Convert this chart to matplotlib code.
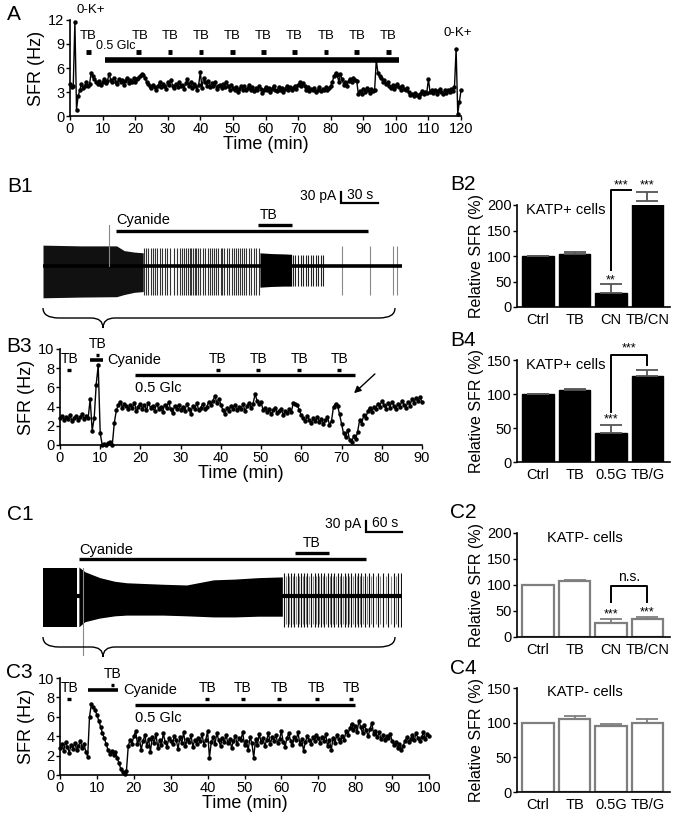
import numpy as np
import matplotlib
matplotlib.use('Agg')
import matplotlib.pyplot as plt
from matplotlib.path import Path
from matplotlib.patches import PathPatch

plt.rcParams['font.family'] = ['Liberation Sans', 'DejaVu Sans']

# ------------------------------------------------------------------ data
# Panel A: SFR (Hz) every 0.5 min, 0..120 min
a_sfr = [4.0, 3.6, 3.8, 11.8, 0.8, 2.5, 3.2, 4.0, 3.5, 3.8, 4.2, 3.7, 4.0, 5.4, 5.0, 4.6, 4.3, 4.0, 4.4, 3.9, 4.2,
         4.6, 4.1, 4.4, 5.3, 4.5, 4.2, 4.8, 4.3, 4.0, 4.6, 4.2, 4.5, 3.9, 4.4, 4.8, 4.1, 4.5, 4.2, 4.7, 4.3,
         4.6, 4.8, 5.0, 5.2, 5.1, 4.8, 4.3, 4.0, 3.7, 3.5, 3.9, 3.6, 3.3, 3.8, 4.2, 3.6, 4.0, 3.7, 3.4, 4.3,
         3.9, 4.5, 3.8, 3.5, 4.0, 3.6, 4.2, 3.7, 3.9, 3.4, 4.1, 4.6, 3.8, 4.3, 3.5, 4.0, 3.7, 3.3, 3.9, 5.5,
         3.5, 4.8, 4.2, 3.8, 4.4, 3.6, 4.1, 3.8, 4.3, 3.4, 3.7, 3.9, 3.5, 4.0, 3.6, 4.2, 3.8, 3.3, 3.9, 3.5,
         3.2, 3.6, 3.0, 3.4, 3.7, 3.3, 3.8, 3.2, 3.5, 3.9, 3.3, 3.6, 3.1, 3.5, 3.2, 3.7, 3.4, 2.9, 3.3, 3.6,
         3.2, 3.5, 3.0, 3.4, 3.8, 3.3, 3.1, 3.6, 3.2, 3.5, 3.0, 3.4, 3.7, 3.3, 3.6, 3.2, 3.5, 3.8, 3.4, 3.9,
         4.2, 3.8, 4.1, 3.7, 3.3, 3.6, 3.1, 3.4, 3.2, 3.5, 3.0, 3.3, 3.6, 3.1, 3.4, 3.2, 3.6, 3.3, 3.5, 3.8,
         4.2, 5.0, 5.4, 5.1, 4.3, 5.2, 4.6, 3.9, 4.2, 3.8, 4.4, 4.6, 4.3, 4.7, 4.5, 4.4, 2.7, 3.1, 2.8, 3.4,
         3.0, 3.5, 3.2, 2.9, 3.4, 3.1, 3.3, 7.0, 5.4, 5.0, 4.7, 4.3, 4.5, 4.0, 4.2, 3.8, 3.5, 3.9, 3.4, 3.7,
         4.0, 3.6, 3.3, 3.8, 3.4, 3.2, 3.5, 3.0, 2.6, 2.8, 2.5, 2.9, 2.6, 2.4, 2.8, 3.1, 2.7, 3.0, 2.9, 4.6,
         3.0, 3.3, 2.9, 3.2, 2.8, 3.1, 3.4, 3.0, 2.8, 3.2, 2.9, 3.3, 3.0, 3.4, 3.1, 3.6, 8.4, 0.3, 1.8, 3.2]
a_tb_times = [5.7, 21.0, 30.7, 40.2, 49.9, 59.4, 68.9, 78.6, 88.0, 97.8]
a_glc = [10.8, 101.0]

# Panel B3: SFR (Hz) every 0.5 min, 0..90 min
b3_sfr = [2.8, 3.0, 2.6, 2.9, 2.7, 3.1, 2.5, 2.8, 3.0, 2.6, 2.9, 3.2, 2.7, 3.0, 2.8, 4.8, 1.5, 2.8, 6.3, 8.3, 1.2,
          0.0, 0.1, 0.0, 0.2, 0.3, 0.0, 2.3, 3.6, 4.2, 4.5, 3.9, 4.3, 4.1, 3.8, 4.2, 3.9, 4.4, 3.5, 4.0, 4.3,
          3.8, 4.2, 3.6, 4.4, 3.9, 4.1, 3.5, 4.3, 3.8, 4.0, 3.4, 4.2, 3.9, 4.5, 3.7, 3.3, 4.1, 3.8, 4.2, 3.6,
          4.0, 3.5, 4.3, 3.8, 3.2, 4.1, 3.7, 4.4, 3.6, 3.9, 4.3, 3.7, 4.0, 4.5, 4.2, 4.6, 5.1, 4.4, 4.8, 4.2,
          3.6, 3.2, 3.9, 3.5, 4.1, 3.8, 4.2, 3.6, 4.0, 3.7, 4.3, 3.5, 4.1, 4.4, 3.9, 4.3, 5.3, 4.6, 4.3, 4.5,
          3.6, 3.9, 3.4, 3.7, 3.2, 3.6, 3.9, 3.3, 3.5, 3.8, 3.1, 3.5, 3.3, 3.7, 3.4, 4.4, 4.3, 4.2, 3.6, 3.1,
          2.8, 2.5, 3.0, 2.6, 2.3, 2.8, 2.5, 2.9, 2.4, 2.7, 2.2, 2.6, 2.9, 2.1, 2.5, 4.0, 4.3, 4.1, 3.2, 2.2,
          1.2, 0.8, 1.6, 0.5, 0.3, 0.9, 0.6, 1.4, 2.6, 2.2, 3.1, 2.8, 3.5, 3.9, 3.4, 4.0, 3.8, 4.3, 4.0, 4.6,
          4.2, 3.8, 4.4, 3.9, 4.5, 4.1, 3.7, 4.3, 4.0, 4.6, 4.2, 3.9, 4.5, 4.1, 4.8, 4.4, 4.9, 4.6, 5.0, 4.5]
b3_tb_first = 2.3
b3_tb_second = 9.4
b3_tb_times = [39.3, 49.3, 59.5, 69.4]
b3_cyanide = [7.5, 10.8]
b3_glc = [18.7, 73.4]

# Panel C3: SFR (Hz) every 0.5 min, 0..100 min
c3_sfr = [2.8, 3.2, 2.5, 3.4, 2.9, 2.3, 3.1, 2.7, 3.3, 2.6, 3.0, 3.5, 2.8, 3.2, 2.4, 1.9, 6.0, 7.3, 7.0, 6.7, 6.2,
          5.6, 5.0, 4.3, 3.8, 3.2, 2.6, 2.2, 2.5, 2.1, 2.4, 1.8, 1.2, 0.6, 0.3, 0.1, 0.4, 3.0, 3.6, 3.2, 4.0,
          4.5, 3.2, 3.8, 2.6, 3.5, 4.1, 3.0, 3.7, 2.4, 3.9, 3.3, 4.2, 2.8, 3.6, 3.1, 4.3, 3.4, 2.9, 3.8, 3.5,
          3.2, 4.0, 3.6, 2.7, 3.9, 3.3, 4.4, 3.0, 3.7, 3.4, 4.1, 2.9, 3.6, 3.2, 3.8, 3.5, 4.2, 3.1, 3.6, 4.5,
          1.8, 3.4, 3.9, 3.2, 4.3, 3.6, 3.0, 3.8, 3.4, 4.1, 3.3, 3.7, 2.8, 3.5, 4.0, 3.2, 3.8, 3.6, 4.4, 3.1,
          3.5, 2.6, 3.9, 3.3, 1.8, 3.7, 3.1, 4.2, 3.4, 3.8, 3.0, 3.6, 4.3, 3.2, 3.9, 3.5, 4.1, 3.3, 3.7, 4.5,
          3.4, 2.9, 3.8, 4.3, 3.5, 3.1, 3.9, 3.6, 4.4, 3.2, 3.7, 2.5, 3.4, 4.0, 3.6, 3.2, 3.9, 3.5, 4.1, 3.8,
          3.3, 3.9, 3.5, 4.2, 3.0, 3.6, 2.6, 3.8, 3.3, 4.1, 3.7, 3.4, 4.0, 3.6, 4.5, 4.1, 4.8, 5.3, 4.6, 5.1,
          4.4, 5.6, 4.9, 4.3, 5.2, 4.6, 4.0, 4.7, 5.4, 4.2, 4.5, 3.9, 4.4, 3.7, 4.1, 3.6, 4.0, 3.8, 4.2, 3.5,
          3.1, 3.4, 2.8, 3.2, 2.6, 3.0, 3.5, 3.9, 3.4, 3.7, 4.1, 3.6, 4.3, 3.8, 3.5, 3.9, 4.4, 3.7, 4.2, 4.0]
c3_tb_first = 2.5
c3_tb_second = 14.3
c3_tb_times = [39.9, 49.6, 59.4, 69.6, 78.9]
c3_cyanide = [7.7, 15.8]
c3_glc = [20.3, 80.0]

# Bar panels (Relative SFR %)
cats_cn = ['Ctrl', 'TB', 'CN', 'TB/CN']
cats_g = ['Ctrl', 'TB', '0.5G', 'TB/G']
b2_mean = [100, 104, 28, 208]
b2_err = [0, 4, 18, 18]
b4_mean = [100, 106, 43, 126]
b4_err = [0, 2, 11, 10]
c2_mean = [100, 107, 27, 34]
c2_err = [0, 2, 7, 5]
c4_mean = [100, 106, 95, 100]
c4_err = [0, 4, 3, 5]

# B1 cell-attached recording (time s, current pA)
b1_dense_t = [0, 30, 58, 64, 72, 79]
b1_dense_up = [57, 55, 55, 42, 38, 36]
b1_dense_dn = [-87, -85, -84, -78, -72, -70]
b1_spk_t = [80, 81.5, 83, 85, 86.5, 88, 90, 92.5, 94, 96, 98, 100.5, 103, 106, 108, 109.5, 111, 112.5,
            114, 115.5, 117, 118.5, 120, 121, 122.5, 124, 126, 128, 130, 131.5, 133, 134.5, 136, 138,
            140, 141.5, 143, 145, 147, 149, 150.5, 152, 153.5, 155, 157, 158.5, 160, 162, 164, 166, 168, 170]
b1_burst_t = [171, 180, 190, 196]
b1_burst_up = [36, 34, 33, 32]
b1_burst_dn = [-58, -56, -55, -55]
b1_spk2_t = [197, 199, 201, 203, 205, 207, 209, 211, 213, 215, 217, 219, 221]
b1_spk3_t = [236, 258, 276, 279]
b1_cyanide = [57.5, 256]
b1_tb = [169.5, 196]

# C1 cell-attached recording (time s, current pA)
c1_dense1_t = [0, 57]
c1_dense1_up = [76, 76]
c1_dense1_dn = [-85, -85]
c1_dense2_t = [60, 70, 95, 120, 140, 170, 200, 240, 285, 320, 360, 400]
c1_dense2_up = [79, 66, 50, 40, 36, 34, 32, 30, 44, 46, 50, 52]
c1_dense2_dn = [-84, -70, -60, -54, -52, -52, -52, -54, -57, -57, -55, -55]
c1_spk_dark = [403, 409, 414, 420, 426, 431, 437, 442, 448, 454, 459, 465, 470, 476, 482, 487, 493,
               498, 504, 510, 515, 521, 527, 532, 538, 545, 552, 560, 568, 577, 586, 593, 598]
c1_spk_gray = [406, 411, 417, 423, 428, 434, 440, 445, 451, 456, 462, 468, 473, 479, 484, 490, 496,
               501, 507, 512, 518, 524, 530, 535, 541, 549, 556, 564, 573, 581, 590]
c1_cyanide = [60, 540]
c1_tb = [421, 478]

# ------------------------------------------------------------------ figure
W, H = 675.0, 816.0
fig = plt.figure(figsize=(6.75, 8.16), dpi=100)


def pax(x0, y0, x1, y1):
    return fig.add_axes([x0 / W, 1 - y1 / H, (x1 - x0) / W, (y1 - y0) / H])


def style_ts(ax, xmax, xstep, ymax, ystep):
    for s in ['top', 'right']:
        ax.spines[s].set_visible(False)
    for s in ['left', 'bottom']:
        ax.spines[s].set_linewidth(1.2)
    ax.set_xlim(0, xmax)
    ax.set_ylim(0, ymax)
    ax.set_xticks(np.arange(0, xmax + 1, xstep))
    ax.set_yticks(np.arange(0, ymax + 0.1, ystep))
    ax.tick_params(direction='out', length=3, width=1, labelsize=10.5, pad=1)
    ax.set_xlabel('Time (min)', fontsize=13, labelpad=0)
    ax.set_ylabel('SFR (Hz)', fontsize=13, labelpad=2)


def hbar(ax, x0, x1, y, lw=2.4):
    ax.plot([x0, x1], [y, y], color='k', lw=lw, solid_capstyle='butt', clip_on=False)


def trace(ax, vals):
    t = np.arange(len(vals)) * 0.5
    ax.plot(t, vals, '-o', color='k', lw=1.0, ms=2.2, clip_on=False, zorder=3)


TFS = 10

# ---------------- A
axA = pax(70, 20, 461, 116)
style_ts(axA, 120, 10, 12, 3)
trace(axA, a_sfr)
for tb in a_tb_times:
    hbar(axA, tb - 0.7, tb + 0.7, 8.0, lw=3.5)
    axA.text(tb + (0.5 if 20 < tb < 22 else 0), 10.0, 'TB', ha='center', va='center', fontsize=9.5)
hbar(axA, a_glc[0], a_glc[1], 7.0, lw=4)
axA.text(7.9, 8.75, '0.5 Glc', ha='left', va='center', fontsize=9)
axA.text(2.0, 13.3, '0-K+', ha='left', va='center', fontsize=9.5)
axA.text(114.5, 10.4, '0-K+', ha='left', va='center', fontsize=9.5)

# ---------------- B3
axB3 = pax(60, 349, 422, 445)
style_ts(axB3, 90, 10, 10, 2)
trace(axB3, b3_sfr)
hbar(axB3, b3_tb_first - 0.5, b3_tb_first + 0.5, 7.8)
axB3.text(b3_tb_first, 9.0, 'TB', ha='center', va='center', fontsize=TFS)
hbar(axB3, b3_tb_second - 0.4, b3_tb_second + 0.4, 9.4)
axB3.text(b3_tb_second, 10.5, 'TB', ha='center', va='center', fontsize=TFS)
hbar(axB3, b3_cyanide[0], b3_cyanide[1], 8.85, lw=2.6)
axB3.text(b3_cyanide[1] + 0.9, 8.85, 'Cyanide', ha='left', va='center', fontsize=TFS + 0.5)
hbar(axB3, b3_glc[0], b3_glc[1], 7.3)
axB3.text(b3_glc[0], 5.9, '0.5 Glc', ha='left', va='center', fontsize=TFS + 0.5)
for tb in b3_tb_times:
    hbar(axB3, tb - 0.5, tb + 0.5, 7.8)
    axB3.text(tb, 9.0, 'TB', ha='center', va='center', fontsize=TFS)
axB3.annotate('', xy=(72.6, 5.2), xytext=(78.8, 7.6),
              arrowprops=dict(arrowstyle='-|>', color='k', lw=1, mutation_scale=10))

# ---------------- C3
axC3 = pax(60, 678, 429, 775)
style_ts(axC3, 100, 10, 10, 2)
trace(axC3, c3_sfr)
hbar(axC3, c3_tb_first - 0.5, c3_tb_first + 0.5, 7.8)
axC3.text(c3_tb_first, 9.0, 'TB', ha='center', va='center', fontsize=TFS)
hbar(axC3, c3_tb_second - 0.4, c3_tb_second + 0.4, 9.3)
axC3.text(c3_tb_second, 10.4, 'TB', ha='center', va='center', fontsize=TFS)
hbar(axC3, c3_cyanide[0], c3_cyanide[1], 8.8, lw=2.6)
axC3.text(17.1, 8.8, 'Cyanide', ha='left', va='center', fontsize=TFS + 0.5)
hbar(axC3, c3_glc[0], c3_glc[1], 7.2)
axC3.text(c3_glc[0], 5.9, '0.5 Glc', ha='left', va='center', fontsize=TFS + 0.5)
for tb in c3_tb_times:
    hbar(axC3, tb - 0.5, tb + 0.5, 7.8)
    axC3.text(tb, 8.95, 'TB', ha='center', va='center', fontsize=TFS)


# ---------------- bar panels
def bar_panel(ax, cats, means, errs, ymax, ystep, filled, label):
    x = np.arange(len(cats))
    if filled:
        ax.bar(x, means, width=0.86, color='k', edgecolor='k', lw=1, zorder=2)
        ec = '#555555'
    else:
        ax.bar(x, means, width=0.86, color='white', edgecolor='#7f7f7f', lw=1.6, zorder=2)
        ec = '#7f7f7f'
    ax.errorbar(x, means, yerr=[np.zeros(len(errs)), errs], fmt='none', ecolor=ec,
                elinewidth=1.3, capsize=8, capthick=1.3, zorder=3, clip_on=False)
    ax.set_xlim(-0.58, 3.62)
    ax.set_ylim(0, ymax)
    for s in ['top', 'right']:
        ax.spines[s].set_visible(False)
    for s in ['left', 'bottom']:
        ax.spines[s].set_linewidth(1.2)
    ax.set_yticks(np.arange(0, ymax + 1, ystep))
    ax.set_xticks(x)
    ax.set_xticklabels(cats)
    ax.tick_params(axis='x', length=0, labelsize=10.5, pad=4)
    ax.tick_params(axis='y', direction='out', length=3, width=1, labelsize=10.5, pad=1)
    ax.set_ylabel('Relative SFR (%)', fontsize=11.5, labelpad=2)
    ax.text(-0.33, ymax * 0.95, label, ha='left', va='center', fontsize=10.5)


def bline(ax, xs, ys):
    ax.plot(xs, ys, color='k', lw=1.4, clip_on=False)


axB2 = pax(517, 205, 670, 307)
bar_panel(axB2, cats_cn, b2_mean, b2_err, 200, 50, True, 'KATP+ cells')
axB2.text(2, 53, '**', ha='center', va='center', fontsize=9)
bline(axB2, [2, 2, 2.55], [72, 229, 229])
axB2.text(2.28, 238, '***', ha='center', va='center', fontsize=9)
axB2.text(3, 238, '***', ha='center', va='center', fontsize=9)

axB4 = pax(517, 360, 670, 462)
bar_panel(axB4, cats_g, b4_mean, b4_err, 150, 50, True, 'KATP+ cells')
axB4.text(2, 62, '***', ha='center', va='center', fontsize=9)
bline(axB4, [2, 2, 3, 3], [74, 158, 158, 143])
axB4.text(2.5, 167, '***', ha='center', va='center', fontsize=9)

axC2 = pax(517, 533, 670, 637)
bar_panel(axC2, cats_cn, c2_mean, c2_err, 200, 50, False, '')
axC2.text(0.25, 190, 'KATP- cells', ha='left', va='center', fontsize=10.5)
axC2.text(2, 43, '***', ha='center', va='center', fontsize=9)
axC2.text(3, 47, '***', ha='center', va='center', fontsize=9)
bline(axC2, [2, 2, 3, 3], [68, 98, 98, 68])
axC2.text(2.5, 116, 'n.s.', ha='center', va='center', fontsize=10)

axC4 = pax(517, 688, 670, 792)
bar_panel(axC4, cats_g, c4_mean, c4_err, 150, 50, False, '')
axC4.text(0.25, 144, 'KATP- cells', ha='left', va='center', fontsize=10.5)

# ---------------- B1 trace
axB1 = pax(43, 236, 402, 300)
axB1.axis('off')
axB1.set_xlim(0, 283)
axB1.set_ylim(-93, 82)
axB1.fill_between(b1_dense_t, b1_dense_dn, b1_dense_up, color='#111111', lw=0)
axB1.vlines(b1_spk_t, -80, 50, color='#333333', lw=0.8)
axB1.fill_between(b1_burst_t, b1_burst_dn, b1_burst_up, color='k', lw=0)
axB1.vlines(b1_spk2_t, -55, 30, color='#222222', lw=0.8)
axB1.vlines(b1_spk3_t, -80, 55, color='#888888', lw=0.8)
axB1.plot([0, 283], [0, 0], color='k', lw=2.6)
axB1.plot([52, 52], [0, 112], color='#888888', lw=0.8, clip_on=False)
hbar(axB1, b1_cyanide[0], b1_cyanide[1], 95.5)
hbar(axB1, b1_tb[0], b1_tb[1], 112)
axB1.text(b1_cyanide[0], 125, 'Cyanide', ha='left', va='center', fontsize=TFS + 0.5)
axB1.text(178, 139, 'TB', ha='center', va='center', fontsize=TFS)

# ---------------- C1 trace
axC1 = pax(43, 560, 402, 632)
axC1.axis('off')
axC1.set_xlim(0, 600)
axC1.set_ylim(-98, 98)
axC1.fill_between(c1_dense1_t, c1_dense1_dn, c1_dense1_up, color='k', lw=0)
axC1.fill_between(c1_dense2_t, c1_dense2_dn, c1_dense2_up, color='k', lw=0)
axC1.vlines(c1_spk_gray, -75, 55, color='#888888', lw=0.8)
axC1.vlines(c1_spk_dark, -84, 62, color='#111111', lw=0.8)
axC1.plot([0, 600], [0, 0], color='k', lw=3)
axC1.plot([67, 67], [76, -161], color='#888888', lw=0.8, clip_on=False)
hbar(axC1, c1_cyanide[0], c1_cyanide[1], 101)
hbar(axC1, c1_tb[0], c1_tb[1], 117)
axC1.text(c1_cyanide[0], 126, 'Cyanide', ha='left', va='center', fontsize=TFS + 0.5)
axC1.text(449, 145, 'TB', ha='center', va='center', fontsize=TFS)

# ---------------- overlay: panel letters, scale bars, braces
ov = fig.add_axes([0, 0, 1, 1])
ov.set_xlim(0, W)
ov.set_ylim(H, 0)
ov.axis('off')
ov.set_zorder(10)

for txt, x, y in [('A', 7, 14), ('B1', 7, 187), ('B2', 450, 185), ('B3', 6, 346), ('B4', 450, 340),
                  ('C1', 7, 515), ('C2', 450, 513), ('C3', 6, 673), ('C4', 450, 668)]:
    ov.text(x, y, txt, ha='left', va='center', fontsize=15)

# scale bars
ov.plot([341, 341, 378], [192, 203, 203], color='k', lw=1.6, solid_joinstyle='miter')
ov.text(336, 196, '30 pA', ha='right', va='center', fontsize=TFS)
ov.text(360, 195, '30 s', ha='center', va='center', fontsize=TFS)
ov.plot([366, 366, 402], [521, 532, 532], color='k', lw=1.6, solid_joinstyle='miter')
ov.text(361, 524, '30 pA', ha='right', va='center', fontsize=TFS)
ov.text(385, 523, '60 s', ha='center', va='center', fontsize=TFS)


def brace(ax, x0, x1, xt, yt, ym, yb, r1=16, r2=12):
    verts = [(x0, yt), (x0, ym), (x0 + r1, ym), (xt - r2, ym), (xt, ym), (xt, yb),
             (xt, ym), (xt + r2, ym), (x1 - r1, ym), (x1, ym), (x1, yt)]
    codes = [Path.MOVETO, Path.CURVE3, Path.CURVE3, Path.LINETO, Path.CURVE3, Path.CURVE3,
             Path.CURVE3, Path.CURVE3, Path.LINETO, Path.CURVE3, Path.CURVE3]
    ax.add_patch(PathPatch(Path(verts, codes), fill=False, lw=1.0, ec='k'))


brace(ov, 43, 395, 103, 308, 318, 328)
brace(ov, 43, 395, 103, 637, 647, 657)

fig.savefig('out.png', dpi=100)
